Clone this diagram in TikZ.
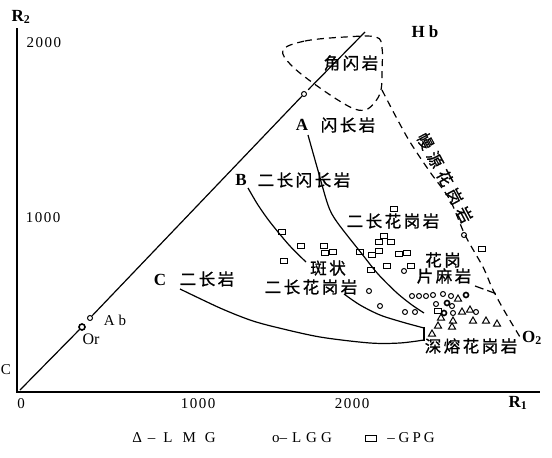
\documentclass[tikz,border=0pt]{standalone}
\usepackage{fontspec}
\setmainfont{Liberation Serif}
\newfontfamily\numf[LetterSpace=10]{Liberation Serif}
\newfontfamily\cjk[LetterSpace=15,FakeBold=1]{Noto Sans CJK SC}
\newfontfamily\cjkw[LetterSpace=30,FakeBold=1]{Noto Sans CJK SC}
\usetikzlibrary{shapes.geometric}
\begin{document}
\begin{tikzpicture}[x=1pt,y=-1pt,
  cn/.style={font=\cjk\fontsize{16.5}{16.5}\selectfont, inner sep=0pt},
  cnr/.style={font=\cjkw\fontsize{16}{16}\selectfont, inner sep=0pt},
  num/.style={font=\numf\fontsize{15}{15}\selectfont, inner sep=0pt},
  lat/.style={font=\fontsize{15}{15}\selectfont, inner sep=0pt},
  bl/.style={font=\bfseries\fontsize{17}{17}\selectfont, inner sep=0pt},
  axis/.style={line width=1.4pt},
  curve/.style={line width=1.2pt},
  dsh/.style={line width=1.2pt, dash pattern=on 7pt off 5pt},
  sq/.style={draw, rectangle, minimum width=7pt, minimum height=5pt, inner sep=0pt, line width=1pt},
  ci/.style={draw, circle, minimum size=5pt, inner sep=0pt, line width=1pt},
  cib/.style={ci, line width=1.6pt},
  tr/.style={draw, regular polygon, regular polygon sides=3, minimum size=8pt, inner sep=0pt, line width=1pt}]
\useasboundingbox (0,0) rectangle (552,458);
% axes
\coordinate (O) at (17,392);
\coordinate (ytop) at (17,28);
\coordinate (xend) at (540,392);
\draw[axis] (ytop) -- (O) -- (xend);
\node[num] (y2000) at (44,43) {2000};
\node[num] (y1000) at (43,218) {1000};
\node[num] (x0) at (21,404) {0};
\node[num] (x1000) at (198,404) {1000};
\node[num] (x2000) at (352,404) {2000};
\node[bl] (R2) at (21,17) {R\textsubscript{2}};
\node[bl] (R1) at (518,403) {R\textsubscript{1}};
\node[lat] (Cedge) at (6,370) {C};
% diagonal
\coordinate (dstart) at (20,390);
\node[cib, minimum size=6pt] (Or) at (82,327) {};
\node[ci] (Ab) at (90,318) {};
\node[ci] (p1) at (304,94) {};
\coordinate (dtop) at (365,32);
\draw[curve] (dstart) -- (Or);
\draw[curve, shorten <=3pt] (Ab) -- (p1) -- (dtop);
\node[lat] (AbT) at (115,320) {A\hspace{4pt}b};
\node[lat, font=\fontsize{16}{16}\selectfont] (OrT) at (91,339) {Or};
% Hb loop
\draw[dsh] plot[smooth cycle, tension=0.6] coordinates {(283,50) (305,41) (345,37) (376,37) (382,48) (382,70) (381,90) (375,102) (365,110) (350,107) (320,88) (292,66)};
\node[bl] (Hb) at (425,32) {H\hspace{4pt}b};
\node[cn] (jiao) at (351,63) {角闪岩};
% mantle dashed line
\draw[dsh] plot[smooth] coordinates {(382,90) (395,115) (410,142) (430,172) (450,200) (465,235) (483,267) (493,290) (505,312) (520,337)};
\draw[dsh, dash pattern=on 9pt off 4pt] (475,286) -- (497,294);
\node[cnr, rotate=-62] (mantle) at (445,178) {幔源花岗岩};
\node[bl] (O2) at (532,338) {O\textsubscript{2}};
% curves
\draw[curve] plot[smooth] coordinates {(308,135) (317,167) (328,205) (337,222) (362,254) (378,274) (397,293) (412,305) (424,313)};
\draw[curve] plot[smooth] coordinates {(248,188) (258,205) (270,222) (289,245) (306,262)};
\draw[curve] plot[smooth] coordinates {(344,294) (360,305) (380,315) (402,322) (424,328)};
\draw[curve] (424,327) -- (424,341);
\draw[curve] plot[smooth] coordinates {(180,289) (220,308) (250,320) (275,327) (320,337) (370,343) (400,343) (424,340)};
% labels
\node[bl] (A) at (302,125) {A};
\node[cn] (shanch) at (348,125) {闪长岩};
\node[bl] (B) at (241,180) {B};
\node[cn] (erchs) at (304,180) {二长闪长岩};
\node[bl] (Cl) at (160,280) {C};
\node[cn] (erch) at (207,279) {二长岩};
\node[cn] (erhg1) at (393,221) {二长花岗岩};
\node[cn] (banz) at (328,268) {斑状};
\node[cn] (erhg2) at (311,287) {二长花岗岩};
\node[cn] (huag) at (443,260) {花岗};
\node[cn] (pianm) at (444,276) {片麻岩};
\node[cn] (shenr) at (471,346) {深熔花岗岩};
% data: GPG squares
\foreach \x/\y [count=\i] in {282/232, 301/246, 324/246, 325/253, 333/252, 284/261, 360/252, 372/255, 379/251, 384/236, 379/242, 391/242, 371/270, 387/266, 399/254, 407/253, 411/266, 394/209, 482/249, 438/311}
  \node[sq] (s\i) at (\x,\y) {};
% data: LGG circles
\foreach \x/\y [count=\i] in {369/291, 380/306, 404/271, 405/312, 415/312, 464/235, 412/296, 419/296, 426/296, 433/295, 443/294, 451/296, 436/304, 452/306, 453/313, 476/312}
  \node[ci] (c\i) at (\x,\y) {};
\foreach \x/\y [count=\i] in {466/295, 447/303, 444/313}
  \node[cib] (cb\i) at (\x,\y) {};
% data: LMG triangles
\foreach \x/\y [count=\i] in {458/299, 462/312, 470/310, 441/318, 453/321, 473/321, 486/321, 497/324, 452/327, 438/326, 432/334}
  \node[tr] (t\i) at (\x,\y) {};
% legend
\node[lat] (l1) at (174,438) {Δ\hspace{6pt}–\hspace{8pt}L\hspace{10pt}M\hspace{9pt}G};
\node[lat] (l2) at (302,438) {o–\hspace{5pt}L\hspace{5pt}G\hspace{4pt}G};
\node[sq, minimum width=11pt, minimum height=6pt] (l3s) at (371,438) {};
\node[lat] (l3) at (411,438) {–\hspace{4pt}G\hspace{3pt}P\hspace{3pt}G};
\end{tikzpicture}
\end{document}
